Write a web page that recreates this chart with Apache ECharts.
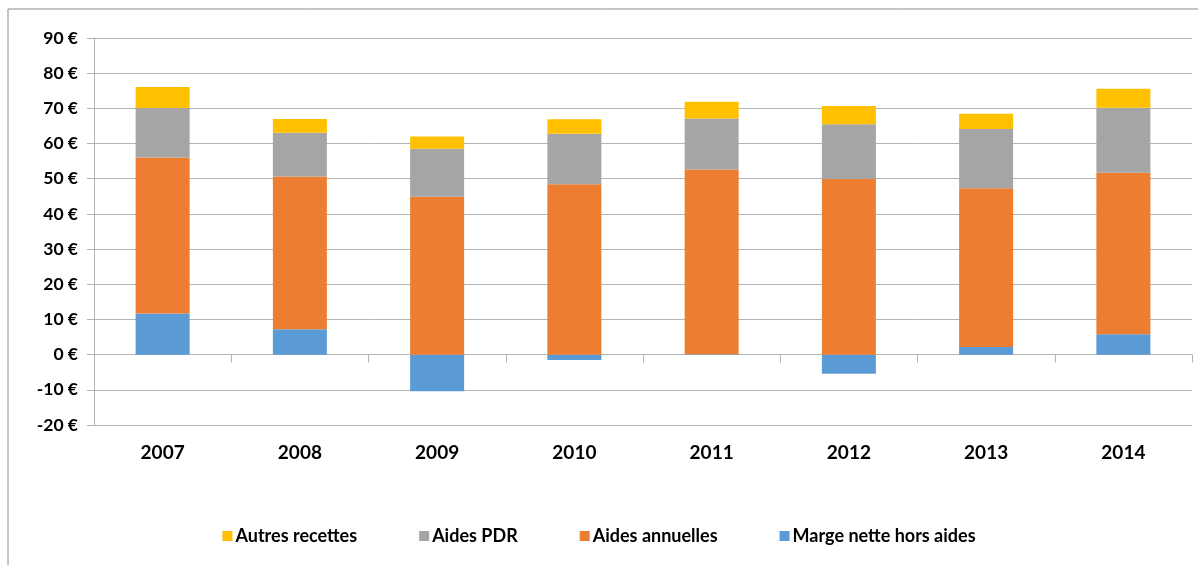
<!DOCTYPE html>
<html>
<head>
<meta charset="utf-8">
<script src="https://cdn.jsdelivr.net/npm/echarts@6/dist/echarts.min.js"></script>
<style>
  html, body { margin: 0; padding: 0; background: #fff; }
  #chart { width: 1198px; height: 565px; }
</style>
</head>
<body>
<div id="chart"></div>
<script>
const years = ['2007', '2008', '2009', '2010', '2011', '2012', '2013', '2014'];
const marge = [11.7, 7.2, -10.4, -1.5, 0.1, -5.4, 2.2, 5.8];
const aidesAnnuelles = [44.3, 43.4, 44.9, 48.4, 52.5, 49.9, 45.1, 45.9];
const aidesPDR = [14.1, 12.5, 13.6, 14.4, 14.5, 15.6, 16.8, 18.5];
const autres = [6.0, 3.9, 3.5, 4.1, 4.8, 5.2, 4.4, 5.4];

const font = 'Lato, "Open Sans", sans-serif';
const gridColor = '#b4b4b4';

const chart = echarts.init(document.getElementById('chart'));

function bar(name, data, color) {
  return {
    name, type: 'bar', stack: 'total', data,
    barWidth: 54,
    itemStyle: { color },
    emphasis: { disabled: true }
  };
}

chart.setOption({
  animation: false,
  backgroundColor: '#fff',
  graphic: [{
    type: 'rect',
    shape: { x: 8, y: 9, width: 1300, height: 700 },
    style: { fill: 'none', stroke: '#8c8c8c', lineWidth: 1 },
    silent: true
  }],
  grid: { left: 94, right: 6, top: 38, bottom: 140 },
  legend: {
    bottom: 15,
    left: 'center',
    itemWidth: 10,
    itemHeight: 10,
    itemGap: 62,
    icon: 'rect',
    textStyle: { fontFamily: font, fontWeight: 'bold', fontSize: 18, color: '#000', padding: [0, 0, 0, -2] },
    data: ['Autres recettes', 'Aides PDR', 'Aides annuelles', 'Marge nette hors aides']
  },
  xAxis: [{
    type: 'category',
    data: years,
    axisLine: { show: false, onZero: false },
    axisTick: { show: false },
    axisLabel: { fontFamily: font, fontWeight: 'bold', fontSize: 19, color: '#000', margin: 18 }
  }, {
    type: 'category',
    data: years,
    position: 'bottom',
    axisLine: { show: true, onZero: true, lineStyle: { color: gridColor, width: 1 } },
    axisTick: { show: true, length: 8, lineStyle: { color: gridColor } },
    axisLabel: { show: false }
  }],
  yAxis: {
    type: 'value',
    min: -20, max: 90, interval: 10,
    axisLine: { show: true, lineStyle: { color: gridColor } },
    axisTick: { show: true, length: 7, inside: false, lineStyle: { color: gridColor } },
    splitLine: { lineStyle: { color: gridColor, width: 1 } },
    axisLabel: {
      fontFamily: font, fontWeight: 'bold', fontSize: 17.5, color: '#000', margin: 16,
      formatter: v => v + ' €'
    }
  },
  series: [
    bar('Marge nette hors aides', marge, '#5b9bd5'),
    bar('Aides annuelles', aidesAnnuelles, '#ed7d31'),
    bar('Aides PDR', aidesPDR, '#a5a5a5'),
    bar('Autres recettes', autres, '#ffc000')
  ]
});
</script>
</body>
</html>
